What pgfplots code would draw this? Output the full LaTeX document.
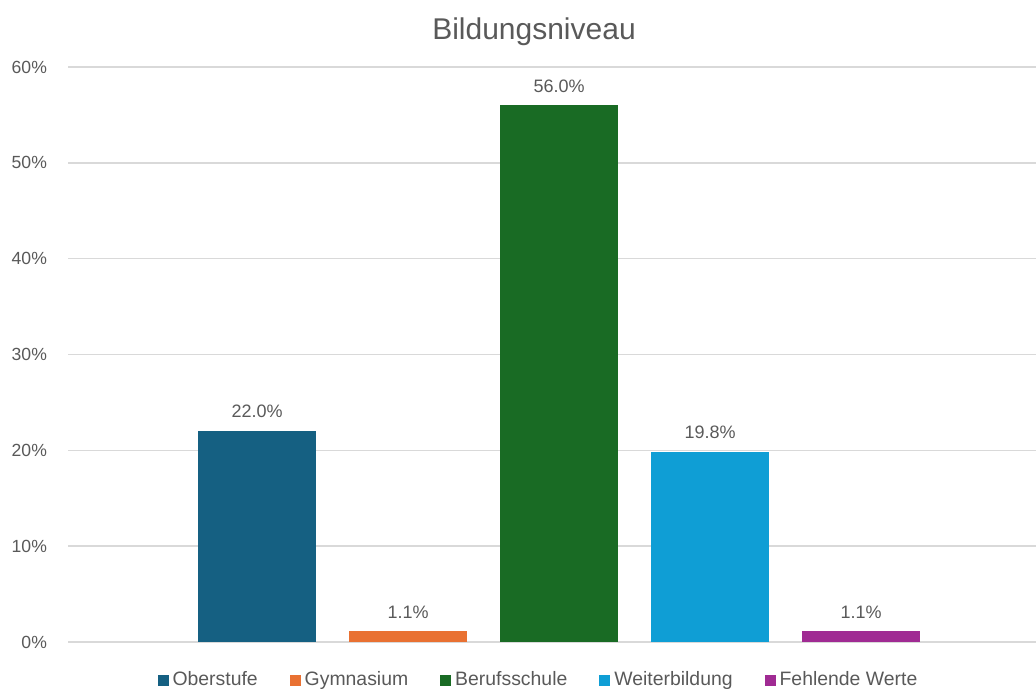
\documentclass[border=0pt]{standalone}
\usepackage{pgfplots}
\pgfplotsset{compat=1.18}
\usepackage{fontspec}
\setmainfont{Liberation Sans}
\definecolor{c1}{HTML}{156082}
\definecolor{c2}{HTML}{E97132}
\definecolor{c3}{HTML}{196B24}
\definecolor{c4}{HTML}{0F9ED5}
\definecolor{c5}{HTML}{A02B93}
\definecolor{txt}{HTML}{595959}
\definecolor{gridc}{HTML}{D9D9D9}
\begin{document}
\begin{tikzpicture}
\useasboundingbox (0,0) rectangle (518pt,344.5pt);
\begin{axis}[
  at={(34pt,23.5pt)}, anchor=south west,
  scale only axis, width=484pt, height=287.5pt,
  xmin=-1.252, xmax=5.159, ymin=0, ymax=60,
  ytick={0,10,...,60},
  yticklabel={\pgfmathprintnumber{\tick}\%},
  xtick=\empty,
  axis line style={draw=none}, tick style={draw=none},
  ymajorgrids, grid style={gridc, line width=0.7pt},
  /pgf/number format/assume math mode=true,
  ticklabel style={font=\fontsize{8.8}{10}\selectfont, text=txt},
  yticklabel style={xshift=-7pt},
  ybar, bar width=0.781, bar shift=0pt,
  legend image code/.code={\path[#1] (0pt,-2.75pt) rectangle (5.5pt,2.75pt);},
  nodes near coords={\pgfmathprintnumber[fixed,fixed zerofill,precision=1]{\pgfplotspointmeta}\%},
  every node near coord/.append style={font=\fontsize{9}{10}\selectfont, text=txt, anchor=center, yshift=9.75pt},
  title={Bildungsniveau},
  every axis title shift=0pt,
  title style={at={(axis description cs:0.4814,1.061)}, anchor=center, font=\fontsize{15}{17}\selectfont, text=txt},
  legend style={at={(axis description cs:0.487,-0.0665)}, anchor=center, draw=none, fill=none,
    font=\fontsize{9.7}{11}\selectfont, text=txt, inner sep=0pt,
    /tikz/every odd column/.append style={column sep=0pt},
    /tikz/every even column/.append style={column sep=14pt}},
  legend columns=-1,
  clip=false,
]
\addplot[fill=c1, draw=none] coordinates {(0,22.0)};
\addlegendentry{Oberstufe}
\addplot[fill=c2, draw=none] coordinates {(1,1.1)};
\addlegendentry{Gymnasium}
\addplot[fill=c3, draw=none] coordinates {(2,56.0)};
\addlegendentry{Berufsschule}
\addplot[fill=c4, draw=none] coordinates {(3,19.8)};
\addlegendentry{Weiterbildung}
\addplot[fill=c5, draw=none] coordinates {(4,1.1)};
\addlegendentry{Fehlende Werte}
\end{axis}
\end{tikzpicture}
\end{document}
